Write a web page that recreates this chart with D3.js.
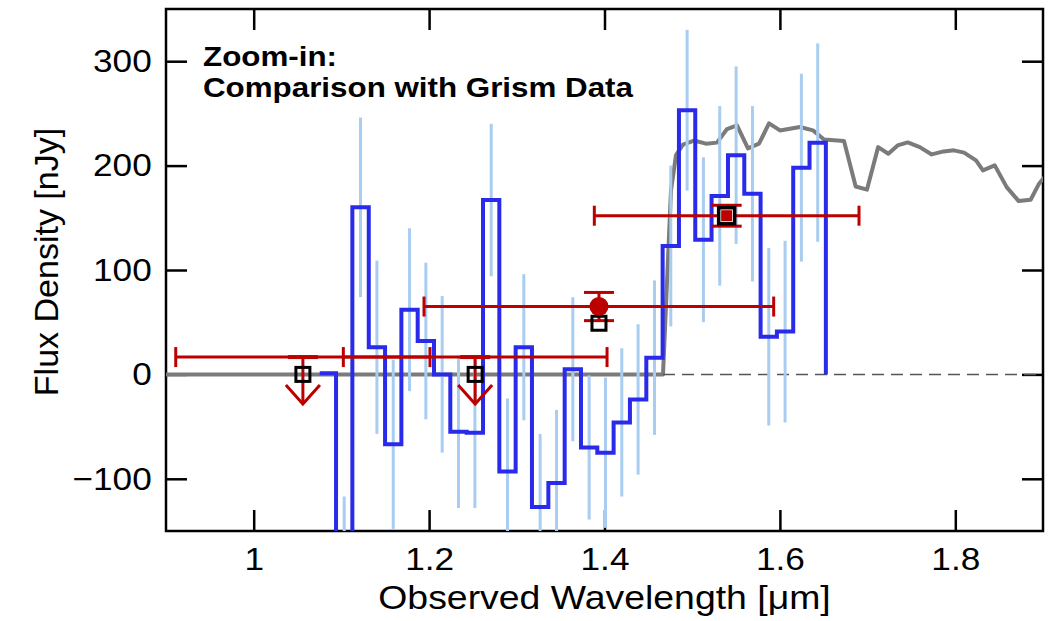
<!DOCTYPE html>
<html>
<head>
<meta charset="utf-8">
<script src="https://cdn.jsdelivr.net/npm/d3@7"></script>
<style>
  body { margin: 0; background: #fff; }
  svg text { font-family: "Liberation Sans", Arial, Helvetica, sans-serif; fill: #000; }
</style>
</head>
<body>
<svg id="chart" width="1058" height="621"></svg>
<script>
// Grism spectrum: bin centres (µm), flux density and 1-sigma error (nJy)
const grismWave = [1.0846, 1.1032, 1.1218, 1.1405, 1.1591, 1.1777, 1.1963, 1.2149, 1.2335, 1.2522,
                   1.2708, 1.2894, 1.3080, 1.3266, 1.3453, 1.3639, 1.3825, 1.4011, 1.4197, 1.4383,
                   1.4570, 1.4756, 1.4942, 1.5128, 1.5314, 1.5501, 1.5687, 1.5873, 1.6059, 1.6245, 1.6431];
const grismFlux = [1, -250, 160, 26, -67, 62, 32, 0, -55, -56,
                   167, -93, 26, -127, -104, 5, -70, -75, -46, -24,
                   16, 123, 253, 129, 171, 210, 173, 36, 41, 198, 222];
const grismErr  = [0, 133, 86, 83, 81, 78, 75, 75, 73, 72,
                   73, 70, 70, 70, 70, 69, 69, 72, 71, 72,
                   74, 77, 77, 79, 86, 85, 84, 85, 87, 90, 95];
const grismBinWidth = 0.01862;

// Best-fit model spectrum (µm, nJy)
const modelWave = [0.85, 1.4667, 1.4758, 1.4815, 1.4895, 1.502, 1.5157, 1.5283, 1.5397, 1.5511,
                   1.5636, 1.5762, 1.5876, 1.6001, 1.6229, 1.6377, 1.6503, 1.6731, 1.6864, 1.6993,
                   1.712, 1.7237, 1.7342, 1.7458, 1.7595, 1.7731, 1.7867, 1.7984, 1.81, 1.8236,
                   1.8315, 1.845, 1.8586, 1.8723, 1.8859, 1.8955, 1.9057];
const modelFlux = [0, 0, 176, 210, 220, 224, 221, 222, 235, 238.5,
                   216.5, 221, 240.5, 233.7, 237, 233.7, 225, 223.6, 180, 177,
                   217.7, 211.4, 219.3, 222.2, 217.7, 210.7, 213.6, 214.6, 212.4, 205,
                   195.4, 200.2, 179.4, 166, 167.3, 182.7, 193];

// Broad-band photometry: pivot, filter edges, flux / limit, error, model prediction
const bandNames  = ["F105W", "F125W", "F140W", "F160W"];
const bandWave   = [1.0561, 1.2525, 1.3937, 1.5393];
const bandMin    = [0.9111, 1.1022, 1.1942, 1.3884];
const bandMax    = [1.2010, 1.4029, 1.5929, 1.6902];
const bandFlux   = [16.6, 16.6, 65, 152];
const bandErr    = [0, 0, 13.5, 10];
const bandUpper  = [true, true, false, false];
const bandModel  = [0, 0, 49, 152];

const xTicks = [1.0, 1.2, 1.4, 1.6, 1.8];
const xTickLabels = ["1", "1.2", "1.4", "1.6", "1.8"];
const yTicks = [-100, 0, 100, 200, 300];
const yTickLabels = ["\u2212100", "0", "100", "200", "300"];

const titleLines = ["Zoom-in:", "Comparison with Grism Data"];

// ---------------------------------------------------------------------------
const svg = d3.select("#chart");
const pLeft = 166, pRight = 1043, pTop = 9, pBottom = 531;
const x = d3.scaleLinear().domain([0.9, 1.9]).range([pLeft, pRight]);
const y = d3.scaleLinear().domain([-150, 350]).range([pBottom, pTop]);

const RED = "#bb0000", BLUE = "#2a2aea", LIGHTBLUE = "#a9cdf1", GREY = "#7b7b7b";
const WIDE = "scale(1.1,1)";   // slightly widened lettering

// Axes: ticks point inward on all four sides
const tickLen = 21;
const axFont = 32;
const gBottom = svg.append("g").attr("transform", `translate(0,${pBottom})`)
  .call(d3.axisBottom(x).tickValues(xTicks).tickSizeInner(-tickLen).tickSizeOuter(0)
        .tickPadding(16).tickFormat((d, i) => xTickLabels[i]));
const gTop = svg.append("g").attr("transform", `translate(0,${pTop})`)
  .call(d3.axisTop(x).tickValues(xTicks).tickSizeInner(-tickLen).tickSizeOuter(0).tickFormat(""));
const gLeft = svg.append("g").attr("transform", `translate(${pLeft},0)`)
  .call(d3.axisLeft(y).tickValues(yTicks).tickSizeInner(-tickLen).tickSizeOuter(0)
        .tickPadding(13).tickFormat((d, i) => yTickLabels[i]));
const gRight = svg.append("g").attr("transform", `translate(${pRight},0)`)
  .call(d3.axisRight(y).tickValues(yTicks).tickSizeInner(-tickLen).tickSizeOuter(0).tickFormat(""));

[gBottom, gTop, gLeft, gRight].forEach(g => {
  g.attr("font-family", null).attr("font-size", null);
  g.select(".domain").remove();
  g.selectAll(".tick line").attr("stroke", "#000").attr("stroke-width", 2.5);
  g.selectAll(".tick text").attr("font-size", axFont).attr("fill", "#000").attr("transform", WIDE);
});

// Frame
svg.append("rect").attr("x", pLeft).attr("y", pTop)
  .attr("width", pRight - pLeft).attr("height", pBottom - pTop)
  .attr("fill", "none").attr("stroke", "#000").attr("stroke-width", 2.5);

// Axis titles
svg.append("text").attr("transform", `translate(${(pLeft + pRight) / 2},609) ${WIDE}`)
  .attr("text-anchor", "middle").attr("font-size", 34)
  .text("Observed Wavelength [\u03bcm]");
svg.append("text").attr("transform", "translate(58,262) rotate(-90)")
  .attr("text-anchor", "middle").attr("font-size", 34)
  .text("Flux Density [nJy]");

// Plot area clip
svg.append("clipPath").attr("id", "plotClip").append("rect")
  .attr("x", pLeft).attr("y", pTop).attr("width", pRight - pLeft).attr("height", pBottom - pTop);
const plot = svg.append("g").attr("clip-path", "url(#plotClip)");

// Model spectrum
const modelPts = modelWave.map((w, i) => [w, modelFlux[i]]);
plot.append("path").datum(modelPts)
  .attr("d", d3.line().x(d => x(d[0])).y(d => y(d[1])))
  .attr("fill", "none").attr("stroke", GREY).attr("stroke-width", 4)
  .attr("stroke-linejoin", "round");

// Zero level beyond the break
plot.append("line")
  .attr("x1", x(modelWave[1])).attr("x2", x(1.9)).attr("y1", y(0)).attr("y2", y(0))
  .attr("stroke", "#555").attr("stroke-width", 1.5).attr("stroke-dasharray", "12,7");

// Grism error bars
plot.selectAll("line.gerr").data(grismWave.map((w, i) => i).filter(i => grismErr[i] > 0))
  .join("line").attr("class", "gerr")
  .attr("x1", i => x(grismWave[i])).attr("x2", i => x(grismWave[i]))
  .attr("y1", i => y(grismFlux[i] - grismErr[i])).attr("y2", i => y(grismFlux[i] + grismErr[i]))
  .attr("stroke", LIGHTBLUE).attr("stroke-width", 3);

// Grism spectrum as a step histogram
const stepPts = grismWave.map((w, i) => [w - grismBinWidth / 2, grismFlux[i]]);
const lastEdge = grismWave[grismWave.length - 1] + grismBinWidth / 2;
stepPts.push([lastEdge, grismFlux[grismFlux.length - 1]]);
stepPts.push([lastEdge, 0]);
plot.append("path").datum(stepPts)
  .attr("d", d3.line().x(d => x(d[0])).y(d => y(d[1])).curve(d3.curveStepAfter))
  .attr("fill", "none").attr("stroke", BLUE).attr("stroke-width", 4)
  .attr("stroke-linejoin", "miter");

// Photometry
const capH = 10, capW = 15, arrowLen = 47;
const phot = plot.append("g");
bandWave.forEach((w, i) => {
  const g = phot.append("g").attr("stroke", RED).attr("stroke-width", 3).attr("fill", "none");
  const yv = y(bandFlux[i]);
  // filter width
  g.append("line").attr("x1", x(bandMin[i])).attr("x2", x(bandMax[i])).attr("y1", yv).attr("y2", yv);
  g.append("line").attr("x1", x(bandMin[i])).attr("x2", x(bandMin[i])).attr("y1", yv - capH).attr("y2", yv + capH);
  g.append("line").attr("x1", x(bandMax[i])).attr("x2", x(bandMax[i])).attr("y1", yv - capH).attr("y2", yv + capH);
  const xc = x(w);
  if (bandUpper[i]) {
    g.append("line").attr("x1", xc - capW).attr("x2", xc + capW).attr("y1", yv).attr("y2", yv).attr("stroke-width", 4);
    g.append("line").attr("x1", xc).attr("x2", xc).attr("y1", yv).attr("y2", yv + arrowLen);
    g.append("path")
      .attr("d", `M${xc - 17},${yv + arrowLen - 19}L${xc},${yv + arrowLen}L${xc + 17},${yv + arrowLen - 19}`);
  } else {
    const yHi = y(bandFlux[i] + bandErr[i]), yLo = y(bandFlux[i] - bandErr[i]);
    g.append("line").attr("x1", xc).attr("x2", xc).attr("y1", yHi).attr("y2", yLo);
    g.append("line").attr("x1", xc - capW).attr("x2", xc + capW).attr("y1", yHi).attr("y2", yHi);
    g.append("line").attr("x1", xc - capW).attr("x2", xc + capW).attr("y1", yLo).attr("y2", yLo);
  }
});

// Model predictions in each band (open squares) and measured points
bandWave.forEach((w, i) => {
  const xc = x(w), ym = y(bandModel[i]);
  if (!bandUpper[i] && i === bandWave.length - 1) {
    phot.append("rect").attr("x", xc - 8).attr("y", ym - 8).attr("width", 16).attr("height", 16)
      .attr("fill", "#fff").attr("stroke", "#000").attr("stroke-width", 3.5);
    phot.append("rect").attr("x", xc - 5.5).attr("y", y(bandFlux[i]) - 5.5).attr("width", 11).attr("height", 11)
      .attr("fill", RED).attr("stroke", "none");
  } else {
    phot.append("rect").attr("x", xc - 7).attr("y", ym - 7).attr("width", 14).attr("height", 14)
      .attr("fill", "none").attr("stroke", "#000").attr("stroke-width", 3);
    if (!bandUpper[i]) {
      phot.append("circle").attr("cx", xc).attr("cy", y(bandFlux[i])).attr("r", 9.5).attr("fill", RED);
    }
  }
});

// Panel title
const title = svg.append("g").attr("font-weight", "bold").attr("font-size", 28.5);
title.append("text").attr("transform", `translate(203,66) ${WIDE}`).text(titleLines[0]);
title.append("text").attr("transform", `translate(203,97) ${WIDE}`).text(titleLines[1]);
</script>
</body>
</html>
